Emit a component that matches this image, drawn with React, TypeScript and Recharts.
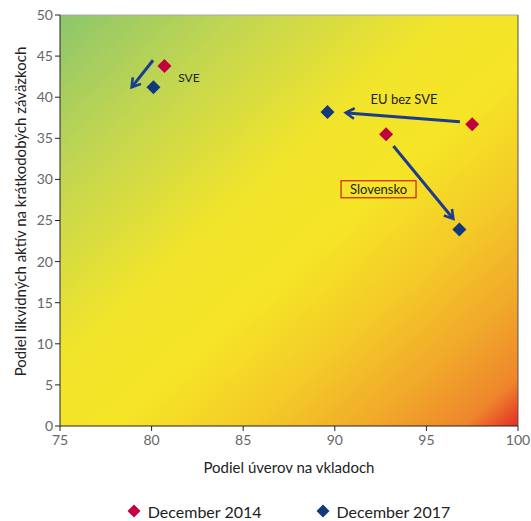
import React from 'react';
import {
  ScatterChart,
  Scatter,
  XAxis,
  YAxis,
  ReferenceArea,
  ReferenceLine,
  ReferenceDot,
  Legend,
} from 'recharts';

const FONT = 'Lato, "Open Sans", sans-serif';

// Data
const regions = ['SVE', 'EU bez SVE', 'Slovensko'];
const loans2014 = [80.7, 97.5, 92.8];
const liquid2014 = [43.8, 36.7, 35.5];
const loans2017 = [80.1, 89.6, 96.8];
const liquid2017 = [41.2, 38.2, 23.9];

const seriesNames = ['December 2014', 'December 2017'];
const seriesColors = ['#c1003d', '#123a7b'];

const xTicks = [75, 80, 85, 90, 95, 100];
const yTicks = [0, 5, 10, 15, 20, 25, 30, 35, 40, 45, 50];

// Arrow annotations (data units)
const arrowFromX = [80.08, 96.83, 93.2];
const arrowFromY = [44.5, 37.0, 34.06];
const arrowToX = [78.91, 90.6, 96.47];
const arrowToY = [41.2, 38.1, 25.2];

// Label annotations (data units)
const labelX = [81.45, 93.78, 92.36];
const labelY = [42.4, 39.76, 28.8];

const data2014 = regions.map((r, i) => ({ name: r, x: loans2014[i], y: liquid2014[i] }));
const data2017 = regions.map((r, i) => ({ name: r, x: loans2017[i], y: liquid2017[i] }));

const Diamond = (props: any) => {
  const { cx, cy, fill } = props;
  if (cx == null || cy == null) return null;
  const h = 7;
  return (
    <polygon
      points={`${cx},${cy - h} ${cx + h},${cy} ${cx},${cy + h} ${cx - h},${cy}`}
      fill={fill}
    />
  );
};

const ARROW = '#1d3d8c';

const ArrowShape = (props: any) => {
  const { x1, y1, x2, y2 } = props;
  if ([x1, y1, x2, y2].some((v) => v == null || isNaN(v))) return null;
  const ang = Math.atan2(y2 - y1, x2 - x1);
  const L = 10;
  const a1 = ang + Math.PI - 0.55;
  const a2 = ang + Math.PI + 0.55;
  return (
    <g>
      <line x1={x1} y1={y1} x2={x2 - Math.cos(ang) * 1.5} y2={y2 - Math.sin(ang) * 1.5} stroke={ARROW} strokeWidth={3} />
      <polyline
        points={`${x2 + Math.cos(a1) * L},${y2 + Math.sin(a1) * L} ${x2},${y2} ${x2 + Math.cos(a2) * L},${y2 + Math.sin(a2) * L}`}
        fill="none"
        stroke={ARROW}
        strokeWidth={2.6}
        strokeLinejoin="miter"
      />
    </g>
  );
};

const makeLabel = (i: number) => (props: any) => {
  const { cx, cy } = props;
  if (cx == null || cy == null) return null;
  const text = regions[i];
  if (i === 0) {
    return (
      <text x={cx} y={cy} fontFamily={FONT} fontSize={12} fill="#222" dominantBaseline="central">
        {text}
      </text>
    );
  }
  if (i === 2) {
    return (
      <g>
        <rect x={cx - 37} y={cy - 8.5} width={75} height={17} fill="none" stroke="#c8202a" strokeWidth={1.2} />
        <text x={cx + 0.5} y={cy} fontFamily={FONT} fontSize={13} fill="#222" textAnchor="middle" dominantBaseline="central">
          {text}
        </text>
      </g>
    );
  }
  return (
    <text x={cx} y={cy} fontFamily={FONT} fontSize={13} fill="#222" textAnchor="middle" dominantBaseline="central">
      {text}
    </text>
  );
};

const XLabel = (props: any) => {
  const vb = props.viewBox || {};
  return (
    <text
      x={vb.x + vb.width / 2}
      y={vb.y + 41}
      textAnchor="middle"
      dominantBaseline="central"
      fontFamily={FONT}
      fontSize={15}
      fill="#222"
    >
      Podiel úverov na vkladoch
    </text>
  );
};

const YLabel = (props: any) => {
  const vb = props.viewBox || {};
  const x = vb.x + 20;
  const y = vb.y + vb.height / 2 - 9;
  return (
    <text
      x={x}
      y={y}
      transform={`rotate(-90, ${x}, ${y})`}
      textAnchor="middle"
      dominantBaseline="central"
      fontFamily={FONT}
      fontSize={15}
      fill="#222"
    >
      Podiel likvidných aktív na krátkodobých záväzkoch
    </text>
  );
};

const LegendContent = () => (
  <div
    style={{
      display: 'flex',
      justifyContent: 'center',
      alignItems: 'center',
      height: 20,
      paddingLeft: 59,
      fontFamily: FONT,
      fontSize: 16,
      color: '#222',
      gap: 54,
    }}
  >
    {seriesNames.map((n, i) => (
      <div key={n} style={{ display: 'flex', alignItems: 'center' }}>
        <svg width={14} height={14} style={{ marginRight: 7 }}>
          <polygon points="7,0.5 13.5,7 7,13.5 0.5,7" fill={seriesColors[i]} />
        </svg>
        <span>{n}</span>
      </div>
    ))}
  </div>
);

export default function App() {
  return (
    <div style={{ position: 'absolute', left: 0, top: 0, width: 531, height: 521, background: '#fff' }}>
      <svg width={0} height={0} style={{ position: 'absolute' }}>
        <defs>
          <linearGradient id="bgGrad" x1="0" y1="0" x2="1" y2="1">
            <stop offset="0" stopColor="#8cc66c" />
            <stop offset="0.2" stopColor="#c2d651" />
            <stop offset="0.42" stopColor="#f1e42c" />
            <stop offset="0.56" stopColor="#f6e526" />
            <stop offset="0.7" stopColor="#f4cc28" />
            <stop offset="0.84" stopColor="#f1a82a" />
            <stop offset="0.94" stopColor="#ee862c" />
            <stop offset="1" stopColor="#e42d26" />
          </linearGradient>
        </defs>
      </svg>
      <ScatterChart width={531} height={521} margin={{ top: 15, right: 13, left: 0, bottom: 0 }}>
        <XAxis
          type="number"
          dataKey="x"
          domain={[75, 100]}
          ticks={xTicks}
          interval={0}
          allowDataOverflow
          height={75}
          stroke="#222"
          tickSize={5}
          tickMargin={4}
          tick={{ fill: '#666', fontSize: 14, fontFamily: FONT }}
          label={XLabel}
        />
        <YAxis
          type="number"
          dataKey="y"
          domain={[0, 50]}
          ticks={yTicks}
          interval={0}
          allowDataOverflow
          width={60}
          stroke="#222"
          tickSize={5}
          tickMargin={2}
          tick={{ fill: '#666', fontSize: 14, fontFamily: FONT }}
          label={YLabel}
        />
        <ReferenceArea x1={75} x2={100} y1={0} y2={50} fill="url(#bgGrad)" fillOpacity={1} stroke="none" />
        <ReferenceLine y={50} stroke="#aaa" strokeWidth={1} />
        <ReferenceLine x={100} stroke="#555" strokeWidth={1} />
        {regions.map((r, i) => (
          <ReferenceLine
            key={'arrow' + r}
            segment={[
              { x: arrowFromX[i], y: arrowFromY[i] },
              { x: arrowToX[i], y: arrowToY[i] },
            ]}
            shape={ArrowShape}
          />
        ))}
        {regions.map((r, i) => (
          <ReferenceDot key={'lab' + r} x={labelX[i]} y={labelY[i]} r={1} shape={makeLabel(i)} />
        ))}
        <Scatter name={seriesNames[0]} data={data2014} fill={seriesColors[0]} shape={Diamond} isAnimationActive={false} />
        <Scatter name={seriesNames[1]} data={data2017} fill={seriesColors[1]} shape={Diamond} isAnimationActive={false} />
        <Legend verticalAlign="bottom" align="center" content={LegendContent} />
      </ScatterChart>
    </div>
  );
}
